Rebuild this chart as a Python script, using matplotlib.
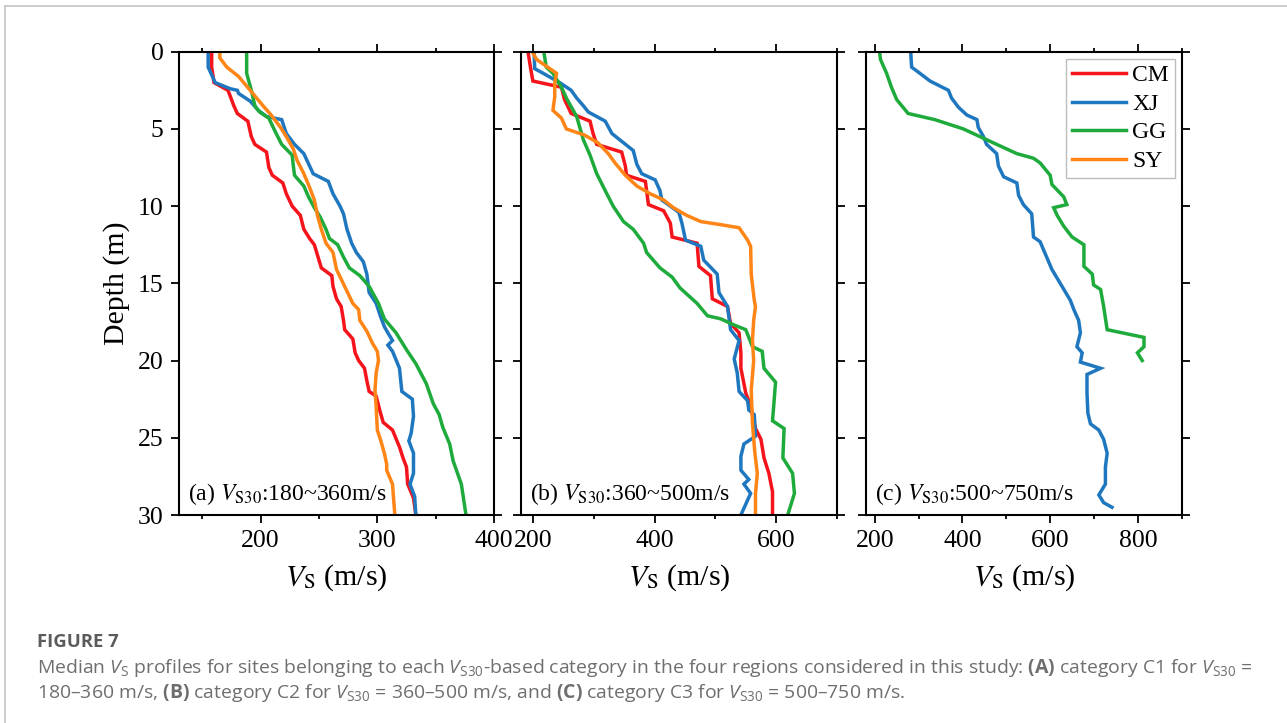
import matplotlib
matplotlib.use('Agg')
import matplotlib.pyplot as plt
from matplotlib.lines import Line2D
from matplotlib.ticker import MultipleLocator

# ---- data: depth (m) and Vs (m/s) ----
# (a) VS30 180~360
a_cm_d = [0, 1, 2, 2.5, 3.5, 4, 4.5, 5.5, 6, 6.5, 7.5, 8, 8.5, 9.2, 10, 10.6, 11.5, 12.1, 12.5, 13,
          14, 14.5, 15.2, 16, 16.5, 17.4, 18, 18.6, 19.5, 20, 20.5, 21.3, 22, 22.3, 23.2, 24, 24.5,
          25.6, 26.3, 26.9, 28, 28.9, 30]
a_cm_v = [158, 158, 160, 172, 177, 180, 189, 192, 195, 205, 207, 210, 219, 222, 227, 234, 237, 242,
          246, 248, 252, 261, 262, 265, 269, 271, 272, 279, 281, 284, 289, 291, 293, 299, 302, 305,
          313, 319, 322, 325, 326, 331, 333]
a_xj_d = [0, 1, 2, 2.4, 2.5, 2.7, 3.2, 3.8, 4.2, 4.4, 5.3, 6, 6.6, 7.9, 8.4, 9.2, 10, 10.5, 11.5,
          12.4, 13, 13.6, 14.4, 15.6, 16.3, 17.2, 17.8, 18.2, 18.7, 19, 19.4, 20.5, 22, 22.5, 23.6,
          24.7, 25.2, 26, 27.3, 28, 28.8, 30]
a_xj_v = [155, 155, 161, 174, 180, 181, 191, 198, 205, 218, 222, 229, 237, 245, 258, 262, 268, 271,
          274, 278, 282, 288, 291, 293, 299, 303, 306, 309, 313, 309, 313, 319, 321, 330, 331, 329,
          327, 331, 331, 328, 332, 333]
a_gg_d = [0, 1.4, 2.5, 3.5, 3.9, 4.3, 5.1, 6, 6.7, 7.4, 8, 8.7, 9.4, 10.1, 10.7, 11.5, 12.1, 12.5,
          13.3, 14, 14.5, 15.2, 16.3, 17.3, 18.2, 19.3, 20.2, 21.5, 22.8, 23.5, 24.3, 25.4, 26.5, 28, 30]
a_gg_v = [188, 188, 192, 195, 199, 207, 212, 218, 227, 228, 229, 237, 241, 246, 251, 256, 259, 266,
          271, 276, 285, 293, 301, 306, 316, 325, 333, 342, 348, 353, 356, 362, 365, 372, 376]
a_sy_d = [0, 0.4, 1, 1.6, 2.5, 3.5, 4.1, 4.9, 5.5, 6.3, 7, 7.9, 8.8, 9.6, 10.7, 11.5, 12.4, 13, 14.1,
          15.2, 16.3, 16.7, 17.4, 18.1, 18.9, 19.4, 20, 20.8, 21.9, 23, 24.5, 25.2, 26, 26.7, 27.1, 28, 30]
a_sy_v = [165, 165, 171, 181, 191, 202, 209, 217, 222, 228, 231, 237, 242, 246, 249, 252, 256, 262,
          265, 272, 279, 284, 285, 291, 296, 300, 301, 299, 298, 299, 300, 303, 306, 308, 308, 313, 315]

# (b) VS30 360~500
b_cm_d = [0, 1, 1.9, 2.3, 3.1, 4, 4.5, 5.3, 6, 6.5, 7.4, 8, 8.4, 9.9, 10.3, 11.1, 12, 12.4, 13.9,
          14.5, 16, 16.5, 17.6, 18.2, 19.5, 20.5, 22.1, 22.9, 24.4, 25.1, 26.3, 27.3, 28.5, 30]
b_cm_v = [192, 196, 200, 247, 252, 263, 294, 299, 305, 346, 352, 354, 385, 390, 415, 426, 429, 470,
          473, 492, 495, 520, 525, 539, 542, 542, 550, 558, 566, 575, 580, 588, 594, 594]
b_xj_d = [0, 1.1, 1.4, 2, 2.5, 3, 3.5, 3.9, 4.5, 5.3, 6.4, 7.3, 7.9, 8.3, 9, 9.6, 10.4, 11.1, 12.2,
          12.6, 13.5, 14.4, 15.6, 16.5, 18, 18.7, 19.9, 20.8, 22, 22.6, 23.2, 23.5, 24.9, 25.4, 26.2,
          27.1, 27.7, 28, 28.6, 30]
b_xj_v = [202, 203, 217, 244, 263, 272, 283, 291, 319, 330, 365, 371, 379, 401, 409, 412, 440, 445,
          451, 476, 481, 503, 506, 520, 525, 539, 531, 536, 539, 553, 555, 564, 566, 547, 542, 542,
          555, 547, 558, 542]
b_gg_d = [0, 1, 1.4, 2.3, 3, 4.2, 5.7, 6.7, 7.9, 9, 10, 11, 11.5, 12.4, 13, 14, 14.6, 15.3, 16.3,
          17.1, 17.3, 17.7, 18, 19.1, 19.4, 20.5, 21.4, 23.9, 24.4, 26.3, 27.3, 28.6, 30]
b_gg_v = [218, 222, 233, 247, 255, 272, 283, 294, 305, 319, 332, 349, 365, 382, 387, 409, 429, 442,
          470, 487, 509, 531, 550, 561, 577, 580, 599, 594, 613, 611, 627, 630, 619]
b_sy_d = [0, 0.5, 1.4, 2, 2.9, 3.8, 4.3, 5, 5.4, 5.9, 6.6, 7.2, 8, 8.7, 9.2, 9.6, 10.1, 10.6, 11,
          11.2, 11.4, 12.2, 12.6, 14.4, 16.1, 16.5, 17.4, 18.7, 20, 21.9, 24.1, 26, 27.3, 28.6, 30]
b_sy_v = [199, 206, 239, 236, 236, 233, 247, 255, 285, 307, 324, 335, 352, 371, 393, 415, 431, 453,
          476, 509, 539, 553, 558, 559, 564, 566, 563, 561, 563, 559, 561, 565, 569, 566, 566]

# (c) VS30 500~750 (only XJ and GG)
c_xj_d = [0, 1, 1.4, 1.9, 2.5, 3, 3.6, 4.1, 4.4, 4.9, 5.5, 6, 6.6, 7.4, 8.1, 8.5, 9.3, 9.9, 10.5,
          12, 12.3, 13.1, 14.1, 15, 16.1, 16.7, 17.4, 18.2, 19.1, 19.5, 20.1, 20.5, 20.9, 22.1, 23.4,
          24.1, 24.5, 25.1, 26, 26.9, 28, 28.7, 29.2, 29.5]
c_xj_v = [282, 284, 303, 326, 368, 375, 391, 410, 433, 436, 448, 455, 478, 482, 494, 524, 528, 539,
          558, 562, 577, 589, 604, 623, 646, 654, 665, 669, 661, 673, 669, 715, 684, 684, 686, 692,
          711, 722, 730, 726, 726, 711, 722, 741]
c_gg_d = [0, 0.5, 1.4, 2.3, 3.1, 4, 4.4, 5, 5.5, 6, 6.6, 6.9, 7.2, 8, 8.6, 9.4, 9.9, 10.1, 10.6,
          11.3, 12, 12.5, 13.9, 14.4, 15.1, 15.4, 16.5, 18, 18.5, 19.1, 19.5, 20]
c_gg_v = [211, 213, 227, 238, 250, 276, 337, 402, 440, 478, 524, 562, 577, 600, 604, 631, 638, 608,
          616, 631, 650, 677, 677, 696, 699, 715, 722, 730, 814, 814, 799, 810]

regions = ['CM', 'XJ', 'GG', 'SY']
colors = {'CM': '#f5141c', 'XJ': '#1f78bf', 'GG': '#1eab3c', 'SY': '#ff8516'}
panel_labels = ['(a) $V_\\mathrm{S30}$:180~360m/s',
                '(b) $V_\\mathrm{S30}$:360~500m/s',
                '(c) $V_\\mathrm{S30}$:500~750m/s']

plt.rcParams['font.family'] = ['Liberation Serif', 'DejaVu Serif']
plt.rcParams['mathtext.fontset'] = 'custom'
plt.rcParams['mathtext.rm'] = 'Open Sans'
plt.rcParams['mathtext.it'] = 'Open Sans:italic'
plt.rcParams['mathtext.bf'] = 'Open Sans:bold'

W, H = 1287, 723
fig = plt.figure(figsize=(W / 100, H / 100), dpi=100)

# axes boxes in pixels (left, right), shared top/bottom
top_px, bot_px = 51.7, 515
boxes = [(179, 494), (520.7, 837), (866, 1181.7)]
xlims = [(130, 400), (180, 700), (180, 900)]
majors = [100, 200, 200]
minors = [50, 100, 100]

series = [
    {'CM': (a_cm_d, a_cm_v), 'XJ': (a_xj_d, a_xj_v), 'GG': (a_gg_d, a_gg_v), 'SY': (a_sy_d, a_sy_v)},
    {'CM': (b_cm_d, b_cm_v), 'XJ': (b_xj_d, b_xj_v), 'GG': (b_gg_d, b_gg_v), 'SY': (b_sy_d, b_sy_v)},
    {'XJ': (c_xj_d, c_xj_v), 'GG': (c_gg_d, c_gg_v)},
]

axes = []
handles = {}
for i, (l, r) in enumerate(boxes):
    ax = fig.add_axes([l / W, 1 - bot_px / H, (r - l) / W, (bot_px - top_px) / H])
    axes.append(ax)
    for name in regions:
        if name not in series[i]:
            continue
        d, v = series[i][name]
        ln, = ax.plot(v, d, color=colors[name], lw=2.5, solid_joinstyle='miter', label=name)
        handles.setdefault(name, ln)
    ax.set_xlim(*xlims[i])
    ax.set_ylim(30, 0)
    ax.xaxis.set_major_locator(MultipleLocator(majors[i]))
    ax.xaxis.set_minor_locator(MultipleLocator(minors[i]))
    ax.yaxis.set_major_locator(MultipleLocator(5))
    ax.tick_params(which='both', direction='out', top=True, right=True, width=1.3,
                   labelsize=18.5, pad=5)
    ax.tick_params(which='major', length=6)
    ax.tick_params(which='minor', length=3)
    if i > 0:
        ax.tick_params(labelleft=False)
    for s in ax.spines.values():
        s.set_linewidth(1.5)
    ax.set_xlabel('$V_\\mathrm{S}$ (m/s)', fontsize=21.5, labelpad=7, math_fontfamily='stix')
    ax.text(9 / (r - l), 0.033, panel_labels[i], transform=ax.transAxes, fontsize=17,
            ha='left', va='baseline', math_fontfamily='stix')

axes[0].set_ylabel('Depth (m)', fontsize=21.5, labelpad=6)

axes[2].legend([handles[n] for n in regions], regions, loc='upper right', fontsize=17,
               frameon=True, fancybox=False, edgecolor='#bdbdbd', framealpha=1,
               handlelength=2.3, handletextpad=0.25, labelspacing=0.3, borderpad=0.25,
               borderaxespad=0.3)

# page frame lines (top and left) of the screenshot
fig.add_artist(Line2D([4.5 / W, 1], [1 - 6 / H, 1 - 6 / H], transform=fig.transFigure,
                      color='#c4c4c4', lw=1.2))
fig.add_artist(Line2D([4.5 / W, 4.5 / W], [0, 1 - 6 / H], transform=fig.transFigure,
                      color='#c4c4c4', lw=1.2))

# caption
fig.text(37 / W, 1 - 647 / H, 'FIGURE 7', fontsize=13.3, family='Open Sans', weight='bold',
         color='#5b5b5b', va='baseline')
cap1 = ('Median $V_\\mathrm{S}$ profiles for sites belonging to each $V_\\mathrm{S30}$-based category '
        'in the four regions considered in this study: $\\mathbf{(A)}$ category C1 for $V_\\mathrm{S30}$ =')
cap2 = ('180\u2013360 m/s, $\\mathbf{(B)}$ category C2 for $V_\\mathrm{S30}$ = 360\u2013500 m/s, and '
        '$\\mathbf{(C)}$ category C3 for $V_\\mathrm{S30}$ = 500\u2013750 m/s.')
fig.text(37 / W, 1 - 673 / H, cap1, fontsize=13.95, family='Open Sans', color='#6e6e6e', va='baseline')
fig.text(37 / W, 1 - 698 / H, cap2, fontsize=13.95, family='Open Sans', color='#6e6e6e', va='baseline')

fig.savefig('out.png', dpi=100, facecolor='white')
